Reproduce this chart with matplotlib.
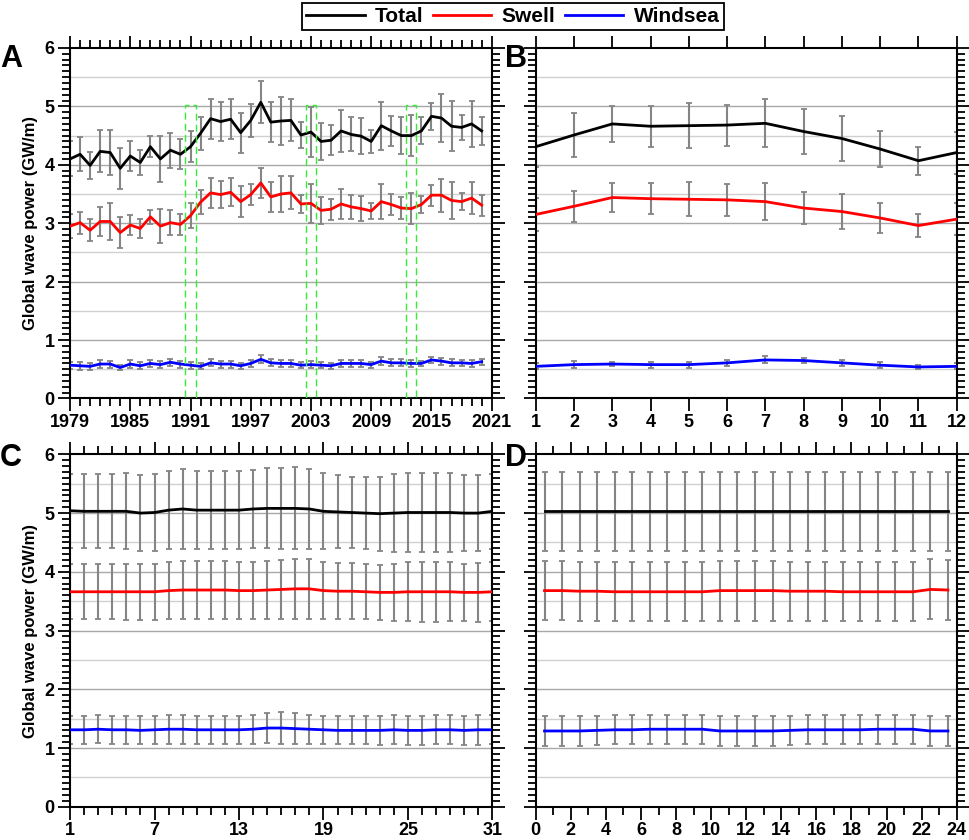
import matplotlib
matplotlib.use('Agg')
import matplotlib.pyplot as plt
from matplotlib.ticker import MultipleLocator, FixedLocator
from matplotlib.patches import Rectangle
from matplotlib.lines import Line2D
import numpy as np

plt.rcParams['font.family'] = ['Liberation Sans', 'DejaVu Sans']
plt.rcParams['font.weight'] = 'bold'

# ---- panel A: yearly means 1979-2020
years = np.arange(1979, 2021)
total_a = [4.10, 4.18, 3.99, 4.23, 4.21, 3.94, 4.15, 4.04, 4.31, 4.10,
           4.25, 4.18, 4.31, 4.54, 4.79, 4.74, 4.78, 4.55, 4.76, 5.07,
           4.73, 4.75, 4.76, 4.51, 4.56, 4.40, 4.42, 4.58, 4.52, 4.49,
           4.40, 4.67, 4.58, 4.50, 4.50, 4.58, 4.83, 4.80, 4.66, 4.64,
           4.70, 4.58]
total_a_err = [0.30, 0.29, 0.23, 0.36, 0.39, 0.35, 0.26, 0.21, 0.18, 0.39,
               0.30, 0.26, 0.27, 0.28, 0.34, 0.33, 0.34, 0.34, 0.28, 0.36,
               0.34, 0.41, 0.36, 0.23, 0.43, 0.31, 0.26, 0.36, 0.29, 0.31,
               0.19, 0.41, 0.25, 0.31, 0.35, 0.23, 0.23, 0.41, 0.43, 0.21,
               0.39, 0.24]
swell_a = [2.95, 3.01, 2.88, 3.03, 3.03, 2.84, 2.97, 2.91, 3.11, 2.95,
           3.01, 2.98, 3.13, 3.36, 3.52, 3.49, 3.53, 3.37, 3.49, 3.69,
           3.45, 3.50, 3.52, 3.33, 3.34, 3.22, 3.24, 3.33, 3.28, 3.25,
           3.21, 3.37, 3.32, 3.26, 3.25, 3.32, 3.48, 3.48, 3.39, 3.37,
           3.43, 3.31]
swell_a_err = [0.20, 0.19, 0.19, 0.25, 0.31, 0.26, 0.17, 0.17, 0.12, 0.29,
               0.21, 0.18, 0.21, 0.21, 0.26, 0.23, 0.24, 0.26, 0.18, 0.26,
               0.26, 0.31, 0.28, 0.15, 0.34, 0.23, 0.18, 0.26, 0.21, 0.21,
               0.13, 0.30, 0.18, 0.19, 0.27, 0.15, 0.18, 0.28, 0.31, 0.15,
               0.27, 0.18]
wind_a = [0.57, 0.56, 0.55, 0.59, 0.59, 0.53, 0.59, 0.56, 0.60, 0.58,
          0.62, 0.59, 0.57, 0.55, 0.61, 0.59, 0.59, 0.56, 0.60, 0.67,
          0.61, 0.60, 0.60, 0.57, 0.58, 0.57, 0.56, 0.60, 0.60, 0.60,
          0.58, 0.64, 0.61, 0.61, 0.60, 0.60, 0.66, 0.64, 0.61, 0.61,
          0.60, 0.63]
wind_a_err = [0.06, 0.07, 0.06, 0.07, 0.06, 0.05, 0.07, 0.06, 0.06, 0.06,
              0.06, 0.06, 0.06, 0.05, 0.06, 0.06, 0.06, 0.05, 0.06, 0.07,
              0.06, 0.06, 0.06, 0.05, 0.06, 0.05, 0.05, 0.06, 0.06, 0.06,
              0.05, 0.07, 0.06, 0.06, 0.06, 0.05, 0.05, 0.06, 0.06, 0.05,
              0.06, 0.05]
event_years = [1991, 2003, 2013]

# ---- panel B: monthly means
months = np.arange(1, 13)
total_b = [4.31, 4.51, 4.70, 4.66, 4.67, 4.68, 4.71, 4.57, 4.45, 4.27, 4.07, 4.21]
total_b_err = [0.35, 0.37, 0.31, 0.35, 0.38, 0.35, 0.41, 0.38, 0.39, 0.31, 0.24, 0.36]
swell_b = [3.15, 3.29, 3.44, 3.42, 3.41, 3.40, 3.37, 3.26, 3.20, 3.09, 2.96, 3.07]
swell_b_err = [0.28, 0.27, 0.25, 0.27, 0.29, 0.27, 0.32, 0.28, 0.30, 0.25, 0.20, 0.28]
wind_b = [0.55, 0.58, 0.59, 0.58, 0.58, 0.61, 0.66, 0.65, 0.61, 0.57, 0.54, 0.55]
wind_b_err = [0.05, 0.06, 0.035, 0.05, 0.05, 0.05, 0.06, 0.05, 0.05, 0.05, 0.04, 0.05]

# ---- panel C: day of month
days = np.arange(1, 32)
total_c = [5.04, 5.03, 5.03, 5.03, 5.03, 5.00, 5.01, 5.05, 5.07, 5.05,
           5.05, 5.05, 5.05, 5.07, 5.08, 5.08, 5.08, 5.07, 5.03, 5.02,
           5.01, 5.00, 4.99, 5.00, 5.01, 5.01, 5.01, 5.01, 5.00, 5.00,
           5.03]
total_c_err = [0.63, 0.63, 0.63, 0.63, 0.65, 0.65, 0.65, 0.67, 0.68, 0.67,
               0.66, 0.66, 0.66, 0.66, 0.68, 0.69, 0.70, 0.68, 0.65, 0.62,
               0.61, 0.61, 0.63, 0.67, 0.68, 0.68, 0.68, 0.67, 0.65, 0.65,
               0.64]
swell_c = [3.66, 3.66, 3.66, 3.66, 3.66, 3.66, 3.66, 3.68, 3.69, 3.69,
           3.69, 3.69, 3.68, 3.68, 3.69, 3.70, 3.71, 3.71, 3.68, 3.67,
           3.67, 3.66, 3.65, 3.65, 3.66, 3.66, 3.66, 3.66, 3.65, 3.65,
           3.66]
swell_c_err = [0.47, 0.47, 0.47, 0.47, 0.48, 0.48, 0.48, 0.48, 0.49, 0.49,
               0.49, 0.49, 0.48, 0.48, 0.49, 0.50, 0.51, 0.51, 0.49, 0.48,
               0.48, 0.47, 0.47, 0.49, 0.50, 0.51, 0.51, 0.50, 0.49, 0.50,
               0.50]
wind_c = [1.31, 1.31, 1.32, 1.31, 1.31, 1.30, 1.31, 1.32, 1.32, 1.31,
          1.31, 1.31, 1.31, 1.32, 1.34, 1.34, 1.33, 1.32, 1.31, 1.30,
          1.30, 1.30, 1.30, 1.31, 1.30, 1.30, 1.31, 1.31, 1.30, 1.31,
          1.31]
wind_c_err = [0.24, 0.24, 0.24, 0.24, 0.24, 0.24, 0.24, 0.25, 0.25, 0.24,
              0.24, 0.24, 0.24, 0.25, 0.26, 0.27, 0.26, 0.25, 0.24, 0.24,
              0.24, 0.24, 0.25, 0.25, 0.25, 0.25, 0.25, 0.25, 0.25, 0.26,
              0.25]

# ---- panel D: hour of day
hours = np.arange(0.5, 24, 1.0)
total_d = [5.03] * 24
total_d_err = [0.67] * 24
swell_d = [3.68, 3.68, 3.67, 3.67, 3.66, 3.66, 3.66, 3.66, 3.66, 3.66,
           3.68, 3.68, 3.68, 3.68, 3.67, 3.67, 3.67, 3.66, 3.66, 3.66,
           3.66, 3.66, 3.70, 3.69]
swell_d_err = [0.50, 0.50, 0.50, 0.50, 0.50, 0.50, 0.50, 0.50, 0.50, 0.50,
               0.51, 0.51, 0.51, 0.51, 0.50, 0.50, 0.50, 0.50, 0.50, 0.50,
               0.50, 0.50, 0.51, 0.51]
wind_d = [1.29, 1.29, 1.29, 1.30, 1.31, 1.31, 1.32, 1.32, 1.32, 1.32,
          1.29, 1.29, 1.29, 1.29, 1.30, 1.31, 1.31, 1.31, 1.31, 1.32,
          1.32, 1.32, 1.29, 1.29]
wind_d_err = [0.25] * 24

c_total = 'black'
c_swell = '#ff0000'
c_wind = '#0000ff'
c_err = '#858585'


def style_axes(ax, xlim, xmajor, xminor, ylabels):
    ax.set_xlim(*xlim)
    ax.set_ylim(0, 6)
    ax.xaxis.set_major_locator(FixedLocator(xmajor))
    if xminor is not None:
        ax.xaxis.set_minor_locator(MultipleLocator(xminor))
    ax.yaxis.set_major_locator(MultipleLocator(1))
    ax.yaxis.set_minor_locator(MultipleLocator(0.1))
    for s in ax.spines.values():
        s.set_linewidth(1.5)
    ax.tick_params(which='both', direction='out', top=True, right=True,
                   width=1.3, labelsize=13, pad=2)
    ax.tick_params(which='major', length=9)
    ax.tick_params(which='minor', length=6)
    ax.tick_params(axis='y', labelleft=ylabels)
    for v in np.arange(0.5, 6, 1.0):
        ax.axhline(v, color='#d0d0d0', lw=1.0, zorder=0)
    for v in np.arange(1, 6, 1.0):
        ax.axhline(v, color='#a8a8a8', lw=1.0, zorder=0)
    if ylabels:
        ax.set_ylabel('Global wave power (GW/m)', fontsize=12,
                      fontweight='bold', labelpad=5)


def draw(ax, x, series):
    for y, e, c in series:
        ax.errorbar(x, y, yerr=e, fmt='none', ecolor=c_err, elinewidth=1.5,
                    capsize=2.5, capthick=1.3, zorder=2)
    for y, e, c in series:
        ax.plot(x, y, color=c, lw=2.0, zorder=3)


fig = plt.figure(figsize=(9.7, 8.4), dpi=100)
ax_a = fig.add_axes([0.0722, 0.5256, 0.4347, 0.4173])
ax_b = fig.add_axes([0.5523, 0.5256, 0.4340, 0.4173])
ax_c = fig.add_axes([0.0722, 0.0396, 0.4354, 0.4195])
ax_d = fig.add_axes([0.5523, 0.0396, 0.4340, 0.4195])

draw(ax_a, years, [(total_a, total_a_err, c_total),
                   (swell_a, swell_a_err, c_swell),
                   (wind_a, wind_a_err, c_wind)])
for yr in event_years:
    ax_a.add_patch(Rectangle((yr - 0.5, 0), 1.0, 5.03, fill=False,
                             ec='#33ee33', ls=(0, (5, 3)), lw=1.0, zorder=4))
style_axes(ax_a, (1979, 2021), list(range(1979, 2022, 6)), 1, True)

draw(ax_b, months, [(total_b, total_b_err, c_total),
                    (swell_b, swell_b_err, c_swell),
                    (wind_b, wind_b_err, c_wind)])
style_axes(ax_b, (1, 12), list(range(1, 13)), None, False)

draw(ax_c, days, [(total_c, total_c_err, c_total),
                  (swell_c, swell_c_err, c_swell),
                  (wind_c, wind_c_err, c_wind)])
style_axes(ax_c, (1, 31), [1, 7, 13, 19, 25, 31], 1, True)

draw(ax_d, hours, [(total_d, total_d_err, c_total),
                   (swell_d, swell_d_err, c_swell),
                   (wind_d, wind_d_err, c_wind)])
style_axes(ax_d, (0, 24), list(range(0, 25, 2)), 1, False)

for lab, x, y in [('A', 0.0, 1 - 44 / 840), ('B', 505 / 970, 1 - 44 / 840),
                  ('C', 0.0, 1 - 443 / 840), ('D', 505 / 970, 1 - 443 / 840)]:
    fig.text(x, y, lab, fontsize=22, fontweight='bold', va='top', ha='left')

handles = [Line2D([], [], color=c_total, lw=2),
           Line2D([], [], color=c_swell, lw=2),
           Line2D([], [], color=c_wind, lw=2)]
leg = fig.legend(handles, ['Total', 'Swell', 'Windsea'], loc='upper center',
                 bbox_to_anchor=(513 / 970, 1 - 1 / 840), ncol=3,
                 frameon=True, fancybox=False, edgecolor='black',
                 framealpha=1, handlelength=2.8, handletextpad=0.5,
                 columnspacing=0.45, borderpad=0.2, borderaxespad=0.1,
                 prop={'size': 15, 'weight': 'bold'})
leg.get_frame().set_linewidth(1.3)

fig.savefig('out.png', dpi=100)
